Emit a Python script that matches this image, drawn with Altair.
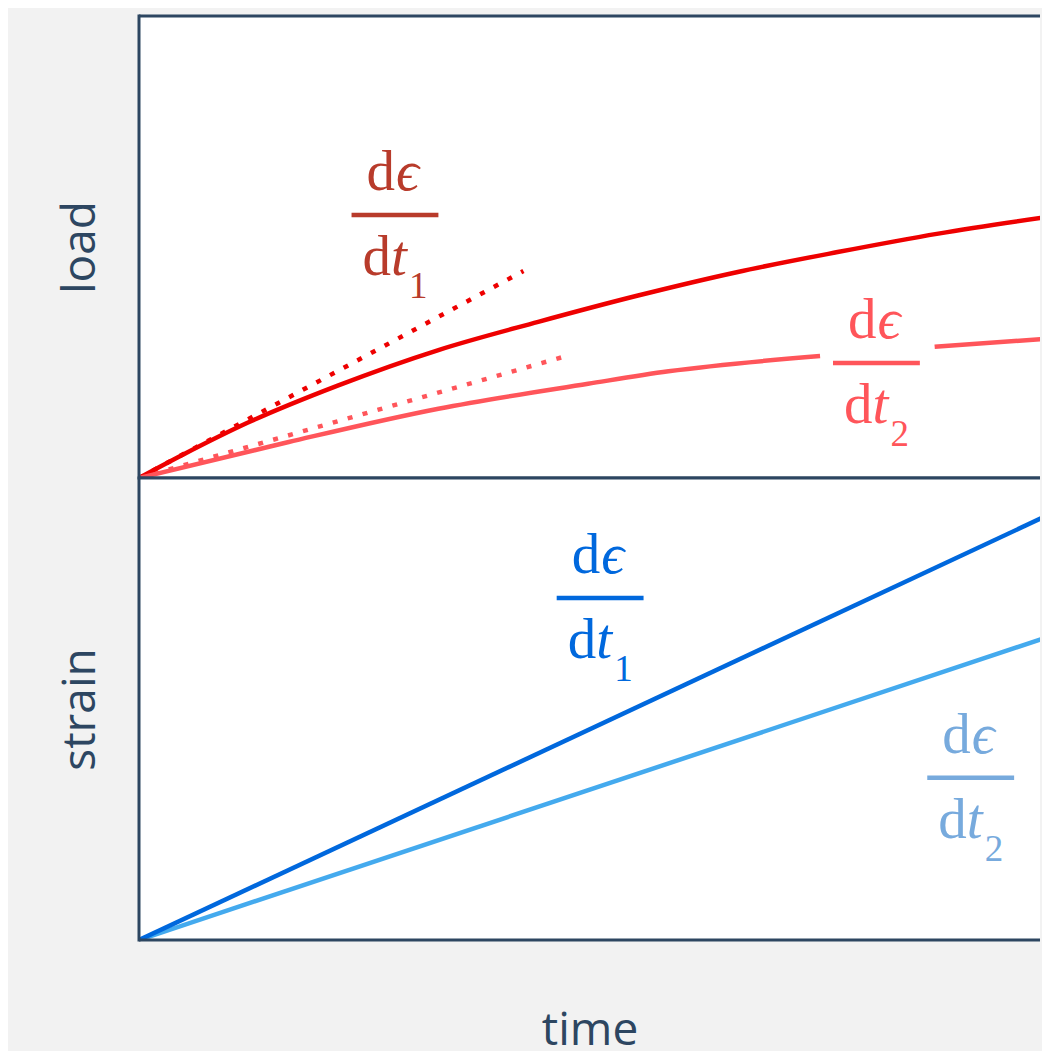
import altair as alt
import pandas as pd

# ---- values (time 0..100, load/strain 0..100) ----
load_fast_t = [0, 5.0, 11.8, 21.5, 32.4, 43.2, 54.0, 64.8, 75.6, 86.5, 100]
load_fast_v = [0, 5.3, 12.0, 20.0, 27.7, 33.8, 39.5, 44.6, 48.9, 52.9, 57.0]

load_slow_t = [0, 16.2, 32.4, 48.6, 57.3, 73.7, 86.1, 100]
load_slow_v = [0, 7.8, 15.0, 20.4, 23.1, 26.4, 28.4, 30.4]
load_slow_seg = ["a", "a", "a", "a", "a", "a", "b", "b"]

tangent_fast_t = [0, 41.6]
tangent_fast_v = [0, 44.8]
tangent_slow_t = [0, 46.6]
tangent_slow_v = [0, 26.6]

strain_fast_t = [0, 100]
strain_fast_v = [0, 93.5]
strain_slow_t = [0, 100]
strain_slow_v = [0, 66.7]

label_panel = ["load", "load", "strain", "strain"]
label_t = [27.7, 79.8, 49.9, 90.0]
label_v = [56.9, 24.9, 74.0, 35.1]
label_sub = ["1", "2", "1", "2"]
label_color = ["#b83b2b", "#ff555a", "#0068dd", "#77aadd"]
bar_half = 4.7

# visible part of the time axis (the frame runs off the right edge)
T_MAX = 97.5

C_FAST_LOAD = "#ee0000"
C_SLOW_LOAD = "#ff555a"
C_FAST_STRAIN = "#0068dd"
C_SLOW_STRAIN = "#44aaee"
C_FRAME = "#2d4661"
SERIF = "Liberation Serif"
SANS = "Open Sans"
FS = 57
FS_SUB = 37
LW = 4.5

XS = alt.Scale(domain=[0, T_MAX], nice=False, zero=False)
YS = alt.Scale(domain=[0, 100], nice=False, zero=False)


def line_df(ts, vs, seg=None):
    return pd.DataFrame({"t": ts, "v": vs, "seg": seg if seg else ["a"] * len(ts)})


labels_df = pd.DataFrame({
    "panel": label_panel, "t": label_t, "v": label_v,
    "sub": label_sub, "c": label_color,
})
labels_df["t0"] = labels_df["t"] - bar_half
labels_df["t1"] = labels_df["t"] + bar_half

vframe_df = pd.DataFrame({"t": [0], "v": [0], "v2": [100]})
hframe_df = pd.DataFrame({"t": [0, 0], "t2": [T_MAX, T_MAX], "v": [0, 100]})


def xenc(show, field="t"):
    if show:
        return alt.X(f"{field}:Q", scale=XS, title="time")
    return alt.X(f"{field}:Q", scale=XS, axis=None)


def yenc(title, field="v"):
    return alt.Y(f"{field}:Q", scale=YS, title=title)


def frame_layers(show_x, ytitle):
    v = alt.Chart(vframe_df).mark_rule(
        color=C_FRAME, strokeWidth=3, strokeCap="square").encode(
        x=xenc(show_x), y=yenc(ytitle), y2="v2:Q")
    h = alt.Chart(hframe_df).mark_rule(
        color=C_FRAME, strokeWidth=3, strokeCap="butt").encode(
        x=xenc(show_x), x2="t2:Q", y=yenc(ytitle))
    return [h, v]


def label_layers(panel, show_x, ytitle):
    d = labels_df[labels_df["panel"] == panel]
    base = alt.Chart(d)
    col = alt.Color("c:N", scale=None)
    bar = base.mark_rule(strokeWidth=4.5, strokeCap="butt").encode(
        x=xenc(show_x, "t0"), x2="t1:Q", y=yenc(ytitle), color=col)
    top_d = base.mark_text(text="d", font=SERIF, fontSize=FS, align="right",
                           baseline="alphabetic", dx=0, dy=-25).encode(
        x=xenc(show_x), y=yenc(ytitle), color=col)
    top_e = base.mark_text(text="\u03f5", font=SERIF, fontSize=FS, fontStyle="italic",
                           align="left", baseline="alphabetic", dx=1, dy=-25).encode(
        x=xenc(show_x), y=yenc(ytitle), color=col)
    bot_d = base.mark_text(text="d", font=SERIF, fontSize=FS, align="right",
                           baseline="alphabetic", dx=-4, dy=60).encode(
        x=xenc(show_x), y=yenc(ytitle), color=col)
    bot_t = base.mark_text(text="t", font=SERIF, fontSize=FS, fontStyle="italic",
                           align="left", baseline="alphabetic", dx=-4, dy=60).encode(
        x=xenc(show_x), y=yenc(ytitle), color=col)
    sub = base.mark_text(font=SERIF, fontSize=FS_SUB, align="left",
                         baseline="alphabetic", dx=14, dy=83).encode(
        x=xenc(show_x), y=yenc(ytitle), text="sub:N", color=col)
    return [bar, top_d, top_e, bot_d, bot_t, sub]


W, H = 901, 462

# ---- load panel ----
tf = alt.Chart(line_df(tangent_fast_t, tangent_fast_v)).mark_line(
    color=C_FAST_LOAD, strokeWidth=4.5, strokeDash=[5, 10.5], strokeCap="butt").encode(
    x=xenc(False), y=yenc("load"))
ts = alt.Chart(line_df(tangent_slow_t, tangent_slow_v)).mark_line(
    color=C_SLOW_LOAD, strokeWidth=4.5, strokeDash=[5, 10.5], strokeCap="butt").encode(
    x=xenc(False), y=yenc("load"))
lf = alt.Chart(line_df(load_fast_t, load_fast_v)).mark_line(
    color=C_FAST_LOAD, strokeWidth=LW, interpolate="monotone", clip=True).encode(
    x=xenc(False), y=yenc("load"))
lsl = alt.Chart(line_df(load_slow_t, load_slow_v, load_slow_seg)).mark_line(
    color=C_SLOW_LOAD, strokeWidth=LW, interpolate="monotone", clip=True).encode(
    x=xenc(False), y=yenc("load"), detail="seg:N")

top = alt.layer(tf, ts, lf, lsl, *label_layers("load", False, "load"),
                *frame_layers(False, "load")).properties(width=W, height=H)

# ---- strain panel ----
sf = alt.Chart(line_df(strain_fast_t, strain_fast_v)).mark_line(
    color=C_FAST_STRAIN, strokeWidth=LW, clip=True).encode(
    x=xenc(True), y=yenc("strain"))
ss = alt.Chart(line_df(strain_slow_t, strain_slow_v)).mark_line(
    color=C_SLOW_STRAIN, strokeWidth=LW, clip=True).encode(
    x=xenc(True), y=yenc("strain"))

bottom = alt.layer(ss, sf, *label_layers("strain", True, "strain"),
                   *frame_layers(True, "strain")).properties(width=W, height=H)

chart = alt.vconcat(top, bottom, spacing=0, bounds="flush").properties(
    background="#f2f2f2",
    padding={"left": 49, "top": 5, "right": 0, "bottom": 0},
).configure_view(
    stroke=None, fill="white"
).configure_axis(
    labels=False, ticks=False, domain=False, grid=False,
    titleFont=SANS, titleFontSize=46, titleFontWeight="normal", titleColor=C_FRAME,
).configure_axisX(titlePadding=68).configure_axisY(titlePadding=35)

chart.save("out.html", embed_options={"renderer": "svg", "actions": False})
